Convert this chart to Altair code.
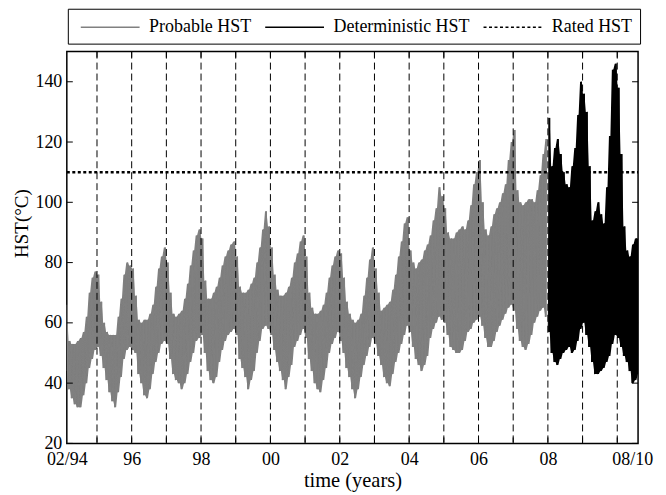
import altair as alt
import pandas as pd

# ---- data (monthly upper / lower envelope of the hourly HST) ----
# Probable HST, Feb 1994 .. Dec 2007
gray_hi = [
    66, 54, 53, 53, 54, 55, 57, 62, 70, 75, 77,                 # 1994 (Feb-Dec)
    76, 67, 60, 57, 56, 56, 56, 62, 68, 76, 80, 79,             # 1995
    78, 69, 61, 60, 61, 61, 63, 66, 72, 78, 82, 85,             # 1996
    80, 70, 63, 62, 63, 64, 68, 73, 79, 84, 89, 91,             # 1997
    88, 74, 68, 68, 70, 72, 75, 79, 82, 84, 86, 87,             # 1998
    82, 72, 70, 70, 71, 73, 75, 80, 85, 91, 97, 92,             # 1999
    85, 76, 71, 69, 69, 70, 72, 75, 80, 83, 87, 89,             # 2000
    82, 70, 65, 63, 63, 64, 66, 70, 75, 79, 82, 84,             # 2001
    83, 75, 67, 63, 61, 60, 61, 63, 69, 75, 81, 85,             # 2002
    78, 70, 64, 65, 66, 67, 71, 76, 82, 87, 93, 95,             # 2003
    84, 80, 78, 80, 81, 84, 86, 89, 94, 98, 105, 102,           # 2004
    98, 90, 88, 88, 90, 91, 92, 91, 94, 99, 106, 110,           # 2005
    114, 100, 91, 89, 92, 96, 98, 100, 103, 106, 114, 120,      # 2006
    124, 104, 100, 99, 100, 101, 101, 100, 104, 109, 116, 121,  # 2007
]
gray_lo = [
    44, 38, 35, 33, 32, 32, 36, 40, 45, 48, 51,
    52, 49, 45, 41, 37, 34, 32, 37, 42, 48, 51, 52,
    51, 50, 43, 40, 36, 35, 38, 43, 47, 50, 53, 54,
    53, 48, 43, 41, 40, 38, 40, 43, 47, 50, 54, 55,
    56, 50, 44, 41, 40, 42, 47, 51, 54, 56, 57, 58,
    56, 48, 45, 42, 38, 41, 44, 50, 54, 58, 59, 58,
    56, 51, 47, 44, 41, 38, 42, 46, 52, 54, 56, 58,
    55, 48, 44, 40, 38, 37, 41, 45, 50, 53, 55, 57,
    54, 50, 45, 42, 38, 35, 38, 42, 46, 49, 52, 55,
    53, 49, 46, 42, 40, 39, 43, 47, 50, 53, 56, 59,
    57, 52, 48, 46, 44, 46, 49, 55, 58, 60, 62, 61,
    60, 56, 52, 51, 50, 50, 51, 54, 57, 58, 60, 61,
    62, 59, 55, 52, 52, 54, 57, 59, 61, 63, 65, 66,
    64, 58, 54, 52, 51, 53, 56, 60, 62, 64, 65, 62,
]
# Deterministic HST, Jan 2008 .. Aug 2010
black_hi = [
    128, 112, 118, 121, 116, 110, 106, 105, 112, 118, 129, 140,  # 2008
    136, 130, 112, 94, 97, 100, 96, 93, 105, 122, 144, 146,      # 2009
    138, 116, 92, 84, 82, 86, 88, 88,                            # 2010 (Jan-Aug)
]
black_lo = [
    57, 50, 47, 46, 48, 50, 51, 52, 50, 51, 54, 58,
    60, 56, 52, 47, 43, 43, 44, 45, 47, 49, 53, 56,
    55, 52, 49, 47, 44, 40, 41, 43,
]
rated_hst = 110
series_names = ["Probable HST", "Deterministic HST", "Rated HST"]
series_colors = ["#808080", "#000000", "#000000"]
series_dash = [[1, 0], [1, 0], [3, 2.5]]

x_start, x_end = 1994.13, 2010.6          # 02/94 .. 08/10
year_ticks = list(range(1995, 2011))
first_label, last_label = "02/94", "08/10"
even_year_labels = {1996: "96", 1998: "98", 2000: "00", 2002: "02",
                    2004: "04", 2006: "06", 2008: "08"}
label_values = [x_start, 1996, 1998, 2000, 2002, 2004, 2006, 2008, 2010.43]
y_ticks = [20, 40, 60, 80, 100, 120, 140]

line_rows, env_rows = [], []


def add(series, y0, m0, his, los):
    y, m = y0, m0
    for hi, lo in zip(his, los):
        t0 = y + (m - 1) / 12
        line_rows.append({"t": t0 + 4 / 365, "v": lo, "series": series})
        line_rows.append({"t": t0 + 19 / 365, "v": hi, "series": series})
        env_rows.append({"t": t0 + 4 / 365, "lo": lo, "hi": hi, "series": series})
        env_rows.append({"t": t0 + 19 / 365, "lo": lo, "hi": hi, "series": series})
        m += 1
        if m > 12:
            m, y = 1, y + 1


add("Probable HST", 1994, 2, gray_hi, gray_lo)
add("Deterministic HST", 2008, 1, black_hi, black_lo)
line_rows.append({"t": x_start, "v": rated_hst, "series": "Rated HST"})
line_rows.append({"t": x_end, "v": rated_hst, "series": "Rated HST"})
df = pd.DataFrame(line_rows)
env = pd.DataFrame(env_rows)

W, H = 573, 393
FONT = "Liberation Serif"

xscale = alt.Scale(domain=[x_start, x_end], nice=False, zero=False)
yscale = alt.Scale(domain=[20, 150], nice=False, zero=False)

label_expr = (
    f"datum.value < 1995 ? '{first_label}' : datum.value > 2010.2 ? '{last_label}' : "
    + "({" + ", ".join(f"'{k}': '{v}'" for k, v in even_year_labels.items())
    + "}[toString(datum.value)] || '')"
)

x_axis = alt.Axis(
    title="time (years)", values=label_values,
    labelExpr=label_expr, grid=False, ticks=False, domain=False, labelPadding=7,
    labelFlush=False, labelOverlap=False, labelBound=False,
    titlePadding=2, titleFontSize=20.5,
)
y_axis = alt.Axis(
    title="HST(°C)", values=y_ticks, grid=False, ticks=False, domain=False,
    labelPadding=5, titleX=-45, titleY=172, titleAngle=270,
    titleAlign="center", titleBaseline="middle", titleFontSize=19,
)

legend = alt.Legend(
    title=None, orient="none", legendX=1, legendY=-43, direction="horizontal",
    symbolType="M-0.55,0H5.35", symbolSize=400, symbolStrokeWidth=1.5,
    strokeColor="black", padding=7.5, columnPadding=8, labelOffset=52,
    labelFont=FONT, labelFontSize=18, labelColor="black", fillColor="white",
)
color = alt.Color("series:N", scale=alt.Scale(domain=series_names, range=series_colors),
                  legend=legend)
dash = alt.StrokeDash("series:N", scale=alt.Scale(domain=series_names, range=series_dash),
                      legend=legend)


def band_layer(name, col):
    return alt.Chart(env).transform_filter(alt.datum.series == name).mark_area(
        color=col, clip=True).encode(
        x=alt.X("t:Q", scale=xscale, axis=x_axis),
        y=alt.Y("hi:Q", scale=yscale, axis=y_axis), y2="lo:Q")


def line_layer(name, **kw):
    return alt.Chart(df).transform_filter(alt.datum.series == name).mark_line(
        clip=True, **kw).encode(
        x=alt.X("t:Q", scale=xscale, axis=x_axis),
        y=alt.Y("v:Q", scale=yscale, axis=y_axis), color=color, strokeDash=dash,
        order="t:Q")


ytick_df = pd.DataFrame({"v": y_ticks})
xtick_df = pd.DataFrame({"t": [float(y) for y in year_ticks]})

grid = alt.Chart(xtick_df).mark_rule(color="black", strokeWidth=1, strokeDash=[7, 4]).encode(
    x=alt.X("t:Q", scale=xscale), y=alt.value(0), y2=alt.value(H))
ytick_left = alt.Chart(ytick_df).mark_rule(color="black", strokeWidth=1).encode(
    y=alt.Y("v:Q", scale=yscale), x=alt.value(0), x2=alt.value(6))
ytick_right = alt.Chart(ytick_df).mark_rule(color="black", strokeWidth=1).encode(
    y=alt.Y("v:Q", scale=yscale), x=alt.value(W - 6), x2=alt.value(W))
xtick_top = alt.Chart(xtick_df).mark_rule(color="black", strokeWidth=1).encode(
    x=alt.X("t:Q", scale=xscale), y=alt.value(0), y2=alt.value(6))
xtick_bot = alt.Chart(xtick_df).mark_rule(color="black", strokeWidth=1).encode(
    x=alt.X("t:Q", scale=xscale), y=alt.value(H - 6), y2=alt.value(H))

chart = alt.layer(
    band_layer("Probable HST", series_colors[0]),
    line_layer("Probable HST", strokeWidth=1),
    band_layer("Deterministic HST", series_colors[1]),
    line_layer("Deterministic HST", strokeWidth=1),
    grid,
    line_layer("Rated HST", strokeWidth=2.5),
    ytick_left, ytick_right, xtick_top, xtick_bot,
).properties(
    width=W, height=H,
    autosize=alt.AutoSizeParams(type="none"),
    padding={"left": 59, "top": 43, "right": 20, "bottom": 50},
    background="white",
).configure_view(
    stroke="black", strokeWidth=1.5
).configure_axis(
    labelFont=FONT, labelFontSize=18, labelColor="black",
    titleFont=FONT, titleColor="black", titleFontWeight="normal",
)

chart.save("out.html", embed_options={"renderer": "svg", "actions": False})
